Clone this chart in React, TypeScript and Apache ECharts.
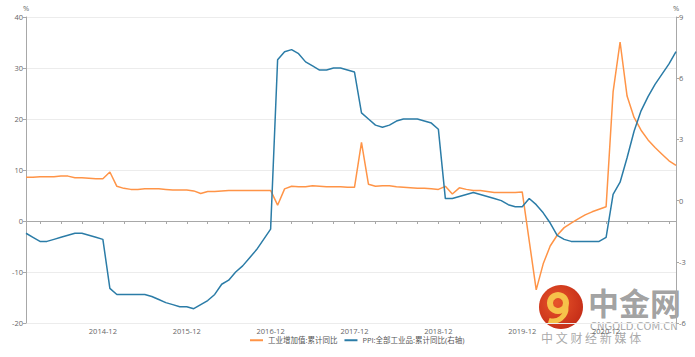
import React, { useEffect, useRef } from "react";
import * as echarts from "echarts";

// Monthly categories 2014-01 .. 2021-10
const startYear = 2014;
const monthCount = 94;
const categories: string[] = [];
for (let i = 0; i < monthCount; i++) {
  const y = startYear + Math.floor(i / 12);
  const m = (i % 12) + 1;
  categories.push(`${y}-${m < 10 ? "0" + m : m}`);
}

// 工业增加值:累计同比 (%)
const iva2014 = [8.6, 8.6, 8.7, 8.7, 8.7, 8.8, 8.8, 8.5, 8.5, 8.4, 8.3, 8.3];
const iva2015 = [9.6, 6.8, 6.4, 6.2, 6.2, 6.3, 6.3, 6.3, 6.2, 6.1, 6.1, 6.1];
const iva2016 = [5.9, 5.4, 5.8, 5.8, 5.9, 6.0, 6.0, 6.0, 6.0, 6.0, 6.0, 6.0];
const iva2017 = [3.1, 6.3, 6.8, 6.7, 6.7, 6.9, 6.8, 6.7, 6.7, 6.7, 6.6, 6.6];
const iva2018 = [15.4, 7.2, 6.8, 6.9, 6.9, 6.7, 6.6, 6.5, 6.4, 6.4, 6.3, 6.2];
const iva2019 = [6.8, 5.3, 6.5, 6.2, 6.0, 6.0, 5.8, 5.6, 5.6, 5.6, 5.6, 5.7];
const iva2020 = [null, -13.5, -8.4, -4.9, -2.8, -1.3, -0.4, 0.4, 1.2, 1.8, 2.3, 2.8];
const iva2021 = [25.3, 35.1, 24.5, 20.3, 17.8, 15.9, 14.4, 13.1, 11.8, 10.9];

// PPI:全部工业品:累计同比 (%, right axis)
const ppi2014 = [-1.6, -1.8, -2.0, -2.0, -1.9, -1.8, -1.7, -1.6, -1.6, -1.7, -1.8, -1.9];
const ppi2015 = [-4.3, -4.6, -4.6, -4.6, -4.6, -4.6, -4.7, -4.85, -5.0, -5.1, -5.2, -5.2];
const ppi2016 = [-5.3, -5.1, -4.9, -4.6, -4.1, -3.9, -3.5, -3.2, -2.8, -2.4, -1.9, -1.4];
const ppi2017 = [6.9, 7.3, 7.4, 7.2, 6.8, 6.6, 6.4, 6.4, 6.5, 6.5, 6.4, 6.3];
const ppi2018 = [4.3, 4.0, 3.7, 3.6, 3.7, 3.9, 4.0, 4.0, 4.0, 3.9, 3.8, 3.5];
const ppi2019 = [0.1, 0.1, 0.2, 0.3, 0.4, 0.3, 0.2, 0.1, 0.0, -0.2, -0.3, -0.3];
const ppi2020 = [0.1, -0.2, -0.6, -1.1, -1.7, -1.9, -2.0, -2.0, -2.0, -2.0, -2.0, -1.8];
const ppi2021 = [0.3, 0.9, 2.1, 3.4, 4.4, 5.1, 5.7, 6.2, 6.7, 7.3];

const ivaData = [...iva2014, ...iva2015, ...iva2016, ...iva2017, ...iva2018, ...iva2019, ...iva2020, ...iva2021];
const ppiData = [...ppi2014, ...ppi2015, ...ppi2016, ...ppi2017, ...ppi2018, ...ppi2019, ...ppi2020, ...ppi2021];

const seriesNames = ["工业增加值:累计同比", "PPI:全部工业品:累计同比(右轴)"];
const colors = ["#ff9447", "#2b7ca7"];

const FONT = "'Open Sans', 'Noto Sans CJK SC', sans-serif";

export default function App() {
  const ref = useRef<HTMLDivElement>(null);
  useEffect(() => {
    document.body.style.margin = "0";
    if (!ref.current) return;
    const chart = echarts.init(ref.current, undefined, { renderer: "svg" });
    const axisLabel = { fontSize: 7.5, color: "#666", fontFamily: FONT };
    chart.setOption({
      animation: false,
      textStyle: { fontFamily: FONT },
      color: colors,
      grid: { left: 26, right: 19, top: 17, bottom: 34, containLabel: false },
      legend: {
        bottom: 8,
        left: 245,
        icon: "rect",
        itemWidth: 13,
        itemHeight: 2,
        itemGap: 7,
        textStyle: { fontSize: 7.5, color: "#555", fontFamily: FONT },
        data: seriesNames,
      },
      xAxis: {
        type: "category",
        boundaryGap: false,
        data: categories,
        axisLine: { lineStyle: { color: "#a8a8a8", width: 1 } },
        axisTick: {
          interval: (idx: number) => idx % 3 === 2,
          length: 3,
          lineStyle: { color: "#a8a8a8" },
        },
        axisLabel: {
          ...axisLabel,
          margin: 4,
          interval: (_idx: number, val: string) => val.endsWith("-12"),
        },
        splitLine: { show: false },
      },
      yAxis: [
        {
          type: "value",
          min: -20,
          max: 40,
          interval: 10,
          name: "%",
          nameGap: 5,
          nameTextStyle: { fontSize: 7.5, color: "#666", fontFamily: FONT },
          axisLine: { show: true, lineStyle: { color: "#a8a8a8" } },
          axisTick: { show: true, length: 3, lineStyle: { color: "#a8a8a8" } },
          axisLabel: { ...axisLabel, margin: 3 },
          splitLine: { show: true, lineStyle: { color: "#ececec", width: 1 } },
        },
        {
          type: "value",
          min: -6,
          max: 9,
          interval: 3,
          name: "%",
          nameGap: 5,
          nameTextStyle: { fontSize: 7.5, color: "#666", fontFamily: FONT },
          axisLine: { show: true, lineStyle: { color: "#a8a8a8" } },
          axisTick: { show: true, length: 3, lineStyle: { color: "#a8a8a8" } },
          axisLabel: { ...axisLabel, margin: 3 },
          splitLine: { show: false },
        },
      ],
      series: [
        {
          name: seriesNames[0],
          type: "line",
          yAxisIndex: 0,
          data: ivaData,
          symbol: "none",
          connectNulls: true,
          lineStyle: { width: 1.5, color: colors[0] },
        },
        {
          name: seriesNames[1],
          type: "line",
          yAxisIndex: 1,
          data: ppiData,
          symbol: "none",
          connectNulls: true,
          lineStyle: { width: 1.5, color: colors[1] },
        },
      ],
      graphic: [
        {
          type: "group",
          z: 100,
          silent: true,
          children: [
            {
              type: "circle",
              shape: { cx: 561, cy: 307, r: 22 },
              style: {
                fill: new echarts.graphic.RadialGradient(0.4, 0.4, 0.7, [
                  { offset: 0, color: "#e8552a" },
                  { offset: 1, color: "#c22a16" },
                ]),
              },
            },
            {
              type: "arc",
              shape: { cx: 558, cy: 303, r: 8, startAngle: 0, endAngle: Math.PI * 2 },
              style: { stroke: "#f6c24a", lineWidth: 6, fill: "none" },
            },
            {
              type: "arc",
              shape: { cx: 553, cy: 308, r: 13, startAngle: -0.1, endAngle: 1.9 },
              style: { stroke: "#f6c24a", lineWidth: 5, fill: "none" },
            },
            {
              type: "text",
              x: 588,
              y: 286,
              style: {
                text: "中金网",
                font: "bold 31px 'Noto Sans CJK SC', sans-serif",
                fill: "rgba(150,150,150,0.9)",
              },
            },
            {
              type: "text",
              x: 590,
              y: 321,
              style: {
                text: "CNGOLD.COM.CN",
                font: "10px 'DejaVu Sans', sans-serif",
                fill: "rgba(160,160,160,0.9)",
              },
            },
            {
              type: "text",
              x: 541,
              y: 331,
              style: {
                text: "中 文 财 经 新 媒 体",
                font: "12px 'Noto Sans CJK SC', sans-serif",
                fill: "rgba(160,160,160,0.9)",
              },
            },
          ],
        },
      ],
    });
    return () => chart.dispose();
  }, []);
  return <div ref={ref} style={{ width: 695, height: 357 }} />;
}
